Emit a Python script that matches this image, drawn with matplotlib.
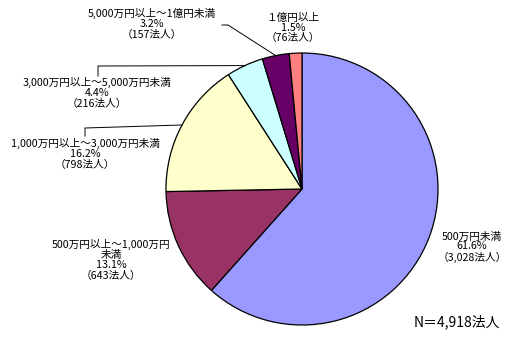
import numpy as np
import matplotlib
matplotlib.use("Agg")
import matplotlib.pyplot as plt

plt.rcParams['font.family'] = ['Noto Sans CJK JP', 'DejaVu Sans']

categories = ["500万円未満", "500万円以上～1,000万円\n未満", "1,000万円以上～3,000万円未満",
              "3,000万円以上～5,000万円未満", "5,000万円以上～1億円未満", "１億円以上"]
shares = [61.6, 13.1, 16.2, 4.4, 3.2, 1.5]
counts = ["3,028", "643", "798", "216", "157", "76"]
colors = ["#9999FF", "#993366", "#FFFFCC", "#CCFFFF", "#660066", "#FF8080"]
total_label = "N＝4,918法人"

W, H = 515, 338
fig = plt.figure(figsize=(W / 100, H / 100), dpi=100)
ax = fig.add_axes([0, 0, 1, 1])

# pixel-like coordinates, y measured from the top
def P(x, y):
    return x, H - y

cx, cy = P(302, 189)
r = 136
wedges, _ = ax.pie(shares, colors=colors, startangle=90, counterclock=False,
                   center=(cx, cy), radius=r,
                   wedgeprops=dict(edgecolor='black', linewidth=0.9))
ax.set_xlim(0, W)
ax.set_ylim(0, H)
ax.set_aspect('equal')
ax.axis('off')

def edge_point(w):
    mid = np.deg2rad((w.theta1 + w.theta2) / 2)
    return cx + r * np.cos(mid), cy + r * np.sin(mid)

texts = [f"{c}\n{s:.1f}%\n（{n}法人）" for c, s, n in zip(categories, shares, counts)]
label_pos = [(472, 247), (111, 260), (85, 154), (97, 93), (152, 24), (293, 28)]
fs = 7.7
for t, (x, y) in zip(texts, label_pos):
    ax.text(*P(x, y), t, ha='center', va='center', fontsize=fs, linespacing=1.0)

# leader lines
def leader(pts, w):
    ex, ey = edge_point(w)
    xs = [P(*p)[0] for p in pts] + [ex]
    ys = [P(*p)[1] for p in pts] + [ey]
    ax.plot(xs, ys, color='black', lw=0.7)

leader([(222, 25), (228, 25)], wedges[4])
leader([(98, 76), (98, 66)], wedges[3])
leader([(85, 136), (85, 128)], wedges[2])

ax.text(*P(500, 322), total_label, ha='right', va='center', fontsize=10)

fig.savefig("out.png", dpi=100)
